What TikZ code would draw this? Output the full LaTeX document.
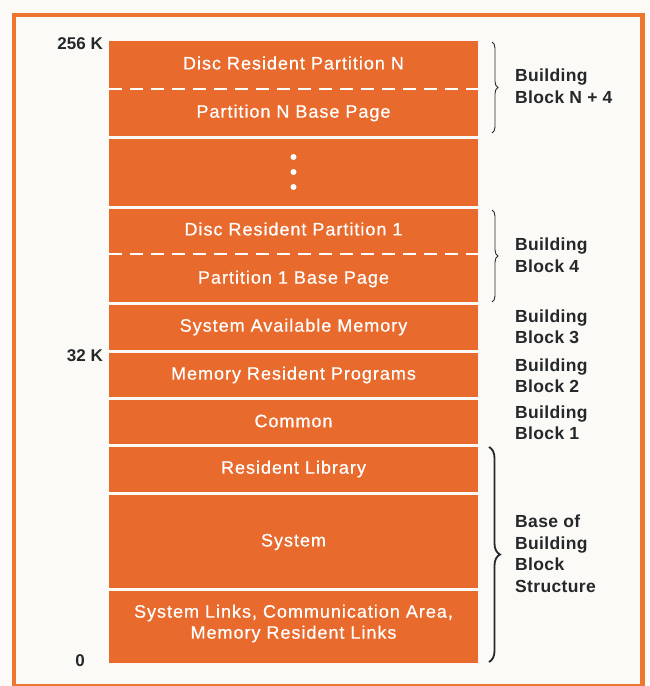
\documentclass[tikz,border=0pt]{standalone}
\usepackage{fontspec}
\setmainfont{Liberation Sans}
\usetikzlibrary{decorations.pathreplacing}
\definecolor{hporange}{RGB}{232,106,45}
\definecolor{frameorange}{RGB}{238,118,46}
\definecolor{ink}{RGB}{36,40,42}
\definecolor{paper}{RGB}{251,250,246}
\begin{document}
\begin{tikzpicture}[x=1pt,y=-1pt,
  blk/.style={fill=hporange, draw=none, inner sep=0pt, minimum width=369pt},
  blktext/.style={text=white, inner sep=0pt, align=center,
    font=\fontsize{18}{21}\selectfont\addfontfeatures{LetterSpace=5.5,FakeBold=0.6}},
  lbl/.style={text=ink, inner sep=0pt, align=left, anchor=west,
    font=\bfseries\fontsize{17.5}{21.5}\selectfont\addfontfeatures{LetterSpace=2}},
  addr/.style={text=ink, inner sep=0pt, font=\bfseries\fontsize{17}{20}\selectfont},
  dashline/.style={white, line width=1.4pt, dash pattern=on 13pt off 8pt},
  dotmark/.style={fill=white, draw=none},
  bracethin/.style={ink, line width=0.9pt, decorate, decoration={brace, amplitude=6pt}},
  bracethick/.style={ink, line width=1.8pt, decorate, decoration={brace, amplitude=11pt}}]
\useasboundingbox (0,0) rectangle (650,686);
\fill[paper] (0,0) rectangle (650,686);
\draw[frameorange, line width=4.5pt] (14,15) rectangle (642.5,686);

% blocks
\node[blk, minimum height=95pt] (bN) at (293.5,88.5) {};
\node[blk, minimum height=67pt] (bdots) at (293.5,172.5) {};
\node[blk, minimum height=93pt] (b1) at (293.5,255.5) {};
\node[blk, minimum height=45pt] (bsam) at (293.5,327.5) {};
\node[blk, minimum height=44pt] (bmrp) at (293.5,375) {};
\node[blk, minimum height=44pt] (bcom) at (293.5,422) {};
\node[blk, minimum height=45pt] (blib) at (293.5,469.5) {};
\node[blk, minimum height=93pt] (bsys) at (293.5,541.5) {};
\node[blk, minimum height=72pt] (blinks) at (293.5,627) {};

% dashed separators
\draw[dashline] (bN.west |- 0,89) -- (bN.east |- 0,89);
\draw[dashline] (b1.west |- 0,254) -- (b1.east |- 0,254);

% block texts
\node[blktext] (tdrpn) at (293.5,63) {Disc Resident Partition N};
\node[blktext] (tpnbp) at (293.5,113) {Partition N Base Page};
\node[blktext] (tdrp1) at (293.5,229) {Disc Resident Partition 1};
\node[blktext] (tp1bp) at (293.5,279) {Partition 1 Base Page};
\node[blktext] (tsam) at (293.5,327) {System Available Memory};
\node[blktext] (tmrp) at (293.5,375) {Memory Resident Programs};
\node[blktext] (tcom) at (293.5,421) {Common};
\node[blktext] (tlib) at (293.5,469) {Resident Library};
\node[blktext] (tsys) at (293.5,542) {System};
\node[blktext] (tlinks) at (293.5,623.5) {System Links, Communication Area,\\Memory Resident Links};

% dots
\fill[dotmark] (293.5,157) circle (3pt);
\fill[dotmark] (293.5,172) circle (3pt);
\fill[dotmark] (293.5,187) circle (3pt);

% address labels
\node[addr, anchor=east] (a256) at (103,44) {256 K};
\node[addr, anchor=east] (a32) at (103,356) {32 K};
\node[addr] (a0) at (80,661) {0};

% braces
\draw[bracethin] (492,42) -- (492,133);
\draw[bracethin] (492,210) -- (492,302);
\draw[bracethick] (489,447) -- (489,662);

% right labels
\node[lbl] (lbn) at (515,86) {Building\\Block N + 4};
\node[lbl] (lb4) at (515,255) {Building\\Block 4};
\node[lbl] (lb3) at (515,327) {Building\\Block 3};
\node[lbl] (lb2) at (515,375.5) {Building\\Block 2};
\node[lbl] (lb1) at (515,422.5) {Building\\Block 1};
\node[lbl] (lbase) at (515,553.5) {Base of\\Building\\Block\\Structure};
\end{tikzpicture}
\end{document}
